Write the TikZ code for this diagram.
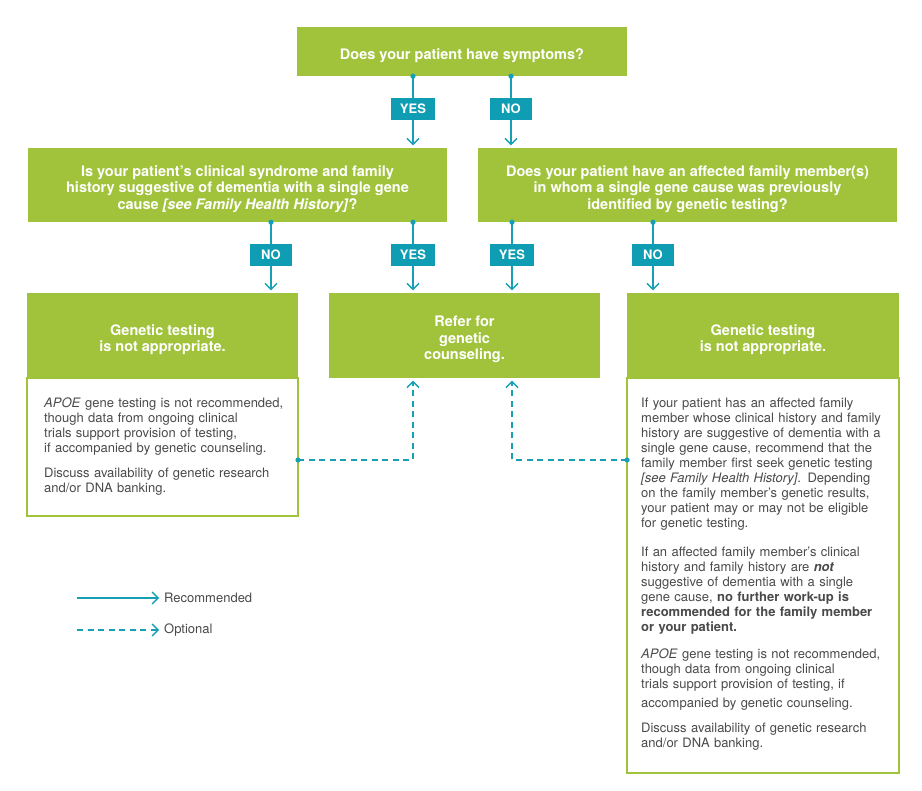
\documentclass[tikz,border=0pt]{standalone}
\usepackage{fontspec}
\setmainfont{TeX Gyre Heros}
\usetikzlibrary{positioning,arrows.meta}
\definecolor{leaf}{HTML}{A1C33B}
\definecolor{sea}{HTML}{17A0B5}
\definecolor{seabox}{HTML}{0E9DB3}
\definecolor{ink}{HTML}{4A4A4A}
\newcommand{\lift}{\rule{0pt}{19pt}}

\begin{document}
\begin{tikzpicture}[x=1pt, y=-1pt]
        \tikzstyle{qbox}=[fill=leaf, text=white, align=center, inner sep=0pt,
                          font=\fontsize{14.5}{16.5}\selectfont\bfseries]
        \tikzstyle{ans}=[fill=seabox, text=white, minimum height=22.5pt, inner sep=0pt,
                         font=\fontsize{13}{15}\selectfont\bfseries]
        \tikzstyle{frame}=[draw=leaf, line width=1.5pt]
        \tikzstyle{body}=[text=ink, align=left, text width=264pt, inner sep=0pt, anchor=north west,
                          font=\fontsize{13}{15}\selectfont]
        \tikzstyle{legend}=[text=ink, inner sep=0pt, anchor=west, font=\fontsize{13}{15}\selectfont]
        \tikzstyle{link}=[draw=sea, line width=1.4pt]
        \tikzstyle{rec}=[link, -{Straight Barb[length=6pt,width=12pt]}, shorten >=2.5pt]
        \tikzstyle{opt}=[rec, dash pattern=on 6pt off 4.5pt]
        \tikzstyle{dot}=[fill=sea]

        \useasboundingbox[fill=white] (0,0) rectangle (922,791);

        % questions
        \node (symp)  [qbox, minimum width=330pt, minimum height=49pt] at (462,51.5)
              {\lift Does your patient have symptoms?};
        \node (q1)    [qbox, minimum width=419pt, minimum height=74pt] at (237.5,185)
              {\lift Is your patient’s clinical syndrome and family\\
               history suggestive of dementia with a single gene\\
               cause \textit{[see Family Health History]}?};
        \node (q2)    [qbox, minimum width=419pt, minimum height=74pt] at (687.5,185)
              {\lift Does your patient have an affected family member(s)\\
               in whom a single gene cause was previously\\
               identified by genetic testing?};

        % outcomes
        \draw[frame] (27,378) rectangle (298,516);
        \draw[frame] (627,378) rectangle (899,773);
        \node (nogtL) [qbox, minimum width=271pt, minimum height=85pt] at (162.5,335.5)
              {\lift Genetic testing\\ is not appropriate.};
        \node (refer) [qbox, minimum width=271pt, minimum height=85pt] at (464.5,335.5)
              {\lift Refer for\\ genetic\\ counseling.};
        \node (nogtR) [qbox, minimum width=272pt, minimum height=85pt] at (763,335.5)
              {\lift Genetic testing\\ is not appropriate.};

        \node (noteL) [body] at (44,398)
              {\textit{APOE} gene testing is not recommended,\\
               though data from ongoing clinical\\
               trials support provision of testing,\\
               if accompanied by genetic counseling.\\[10pt]
               Discuss availability of genetic research\\
               and/or DNA banking.};
        \node (noteR) [body] at (641,398)
              {If your patient has an affected family\\
               member whose clinical history and family\\
               history are suggestive of dementia with a\\
               single gene cause, recommend that the\\
               family member first seek genetic testing\\
               \textit{[see Family Health History]}. Depending\\
               on the family member’s genetic results,\\
               your patient may or may not be eligible\\
               for genetic testing.\\[14pt]
               If an affected family member’s clinical\\
               history and family history are \textbf{\textit{not}}\\
               suggestive of dementia with a single\\
               gene cause, \textbf{no further work-up is}\\
               \textbf{recommended for the family member}\\
               \textbf{or your patient.}\\[12pt]
               \textit{APOE} gene testing is not recommended,\\
               though data from ongoing clinical\\
               trials support provision of testing, if\\[4pt]
               accompanied by genetic counseling.\\[10pt]
               Discuss availability of genetic research\\
               and/or DNA banking.};

        % answers
        \node (yesA) [ans, minimum width=44pt] at (413,109) {YES};
        \node (noA)  [ans, minimum width=42pt] at (511,109) {NO};
        \node (noB)  [ans, minimum width=42pt] at (271,255) {NO};
        \node (yesB) [ans, minimum width=44pt] at (413,255) {YES};
        \node (yesC) [ans, minimum width=44pt] at (512,255) {YES};
        \node (noC)  [ans, minimum width=42pt] at (653,255) {NO};

        \draw[link] (symp.south -| yesA) -- (yesA.north);
        \draw[link] (symp.south -| noA) -- (noA.north);
        \draw[link] (q1.south -| noB) -- (noB.north);
        \draw[link] (q1.south -| yesB) -- (yesB.north);
        \draw[link] (q2.south -| yesC) -- (yesC.north);
        \draw[link] (q2.south -| noC) -- (noC.north);
        \draw[rec] (yesA.south) -- (q1.north -| yesA);
        \draw[rec] (noA.south) -- (q2.north -| noA);
        \draw[rec] (noB.south) -- (nogtL.north -| noB);
        \draw[rec] (yesB.south) -- (refer.north -| yesB);
        \draw[rec] (yesC.south) -- (refer.north -| yesC);
        \draw[rec] (noC.south) -- (nogtR.north -| noC);

        % optional paths
        \coordinate (dL) at (298,460);
        \coordinate (dR) at (627,460);
        \draw[opt] (dL) -| (refer.south -| yesB);
        \draw[opt] (dR) -| (refer.south -| yesC);

        \fill[dot] (symp.south -| yesA) circle[radius=2.6pt] (symp.south -| noA) circle[radius=2.6pt]
                   (q1.south -| noB) circle[radius=2.6pt] (q1.south -| yesB) circle[radius=2.6pt]
                   (q2.south -| yesC) circle[radius=2.6pt] (q2.south -| noC) circle[radius=2.6pt]
                   (dL) circle[radius=2.6pt] (dR) circle[radius=2.6pt];

        % legend
        \node (recL) [legend] at (164,598) {Recommended};
        \node (optL) [legend] at (164,630) {Optional};
        \coordinate (recS) at (77,598);
        \coordinate (optS) at (77,630);
        \draw[rec, shorten >=5pt] (recS) -- (recL.west);
        \draw[opt, shorten >=5pt] (optS) -- (optL.west);
\end{tikzpicture}
\end{document}
